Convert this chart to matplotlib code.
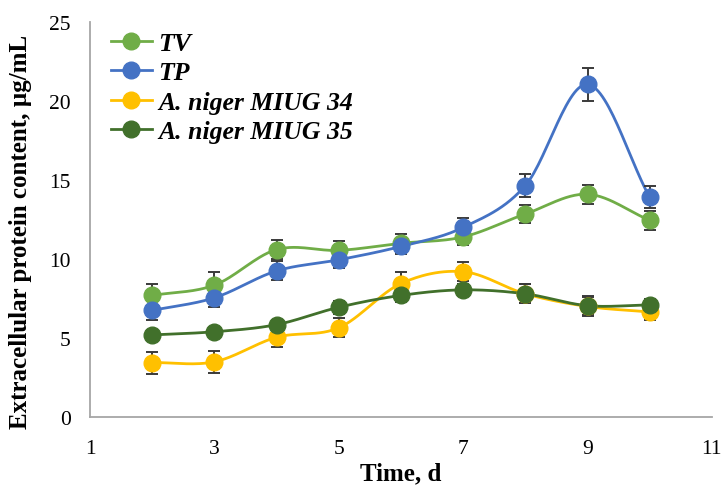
import numpy as np
import matplotlib
matplotlib.use("Agg")
import matplotlib.pyplot as plt
from matplotlib.lines import Line2D

days = [2, 3, 4, 5, 6, 7, 8, 9, 10]
series_names = ["TV", "TP", "A. niger MIUG 34", "A. niger MIUG 35"]
tv = [7.7, 8.35, 10.6, 10.55, 11.0, 11.4, 12.85, 14.1, 12.45]
tp = [6.75, 7.55, 9.25, 9.95, 10.8, 12.0, 14.65, 21.05, 13.9]
miug34 = [3.45, 3.5, 5.05, 5.65, 8.45, 9.2, 7.8, 7.0, 6.65]
miug35 = [5.2, 5.4, 5.85, 6.95, 7.7, 8.05, 7.8, 7.05, 7.1]
tv_err = [0.7, 0.8, 0.6, 0.6, 0.6, 0.5, 0.6, 0.6, 0.6]
tp_err = [0.6, 0.6, 0.6, 0.5, 0.5, 0.6, 0.7, 1.05, 0.7]
miug34_err = [0.7, 0.7, 0.6, 0.6, 0.7, 0.6, 0.6, 0.6, 0.5]
miug35_err = [0.3, 0.3, 0.3, 0.4, 0.4, 0.4, 0.6, 0.6, 0.4]
x_ticks = [1, 3, 5, 7, 9, 11]
y_ticks = [0, 5, 10, 15, 20, 25]

colors = ["#70AD47", "#4472C4", "#FFC000", "#41702B"]
values = [tv, tp, miug34, miug35]
errors = [tv_err, tp_err, miug34_err, miug35_err]


def smooth(x, y, n=30):
    # Catmull-Rom style smoothing similar to spreadsheet "smoothed line"
    x = np.asarray(x, float)
    y = np.asarray(y, float)
    px = np.concatenate([[2 * x[0] - x[1]], x, [2 * x[-1] - x[-2]]])
    py = np.concatenate([[2 * y[0] - y[1]], y, [2 * y[-1] - y[-2]]])
    xs, ys = [], []
    t = np.linspace(0, 1, n)
    for i in range(1, len(px) - 2):
        p0, p1, p2, p3 = (np.array([px[j], py[j]]) for j in range(i - 1, i + 3))
        t2, t3 = t * t, t * t * t
        pts = 0.5 * ((2 * p1)[:, None] + (-p0 + p2)[:, None] * t
                     + (2 * p0 - 5 * p1 + 4 * p2 - p3)[:, None] * t2
                     + (-p0 + 3 * p1 - 3 * p2 + p3)[:, None] * t3)
        xs.extend(pts[0])
        ys.extend(pts[1])
    return np.array(xs), np.array(ys)


plt.rcParams["font.family"] = ["Liberation Serif", "DejaVu Serif"]

fig = plt.figure(figsize=(7.22, 4.89), dpi=100)
ax = fig.add_axes([0.1247, 0.145, 0.8613, 0.808])

handles = []
for name, vals, errs, c in zip(series_names, values, errors, colors):
    sx, sy = smooth(days, vals)
    ax.plot(sx, sy, color=c, lw=2.0, zorder=2)
    ax.errorbar(days, vals, yerr=errs, fmt="none", ecolor="#3a3a3a",
                elinewidth=1.4, capsize=4.5, capthick=1.4, zorder=3)
    ax.plot(days, vals, linestyle="none", marker="o", markersize=12,
            markerfacecolor=c, markeredgecolor=c, zorder=4)
    handles.append(Line2D([0], [0], color=c, lw=2.0, marker="o",
                          markersize=12, markerfacecolor=c,
                          markeredgecolor=c))

ax.set_xlim(1, 11)
ax.set_ylim(0, 25)
ax.set_xticks(x_ticks)
ax.set_yticks(y_ticks)
ax.tick_params(length=0, labelsize=15.5)
ax.tick_params(axis="x", pad=16)
ax.tick_params(axis="y", pad=14)
for s in ["top", "right"]:
    ax.spines[s].set_visible(False)
for s in ["left", "bottom"]:
    ax.spines[s].set_color("#a6a6a6")
    ax.spines[s].set_linewidth(1.3)

ax.set_xlabel("Time, d", fontsize=18, fontweight="bold", labelpad=2)
ax.set_ylabel("Extracellular protein content, µg/mL", fontsize=18,
              fontweight="bold")
ax.yaxis.set_label_coords(-0.094, 0.47)

leg = ax.legend(handles, series_names, loc="upper left",
                bbox_to_anchor=(0.033, 0.975), frameon=False,
                prop={"size": 18.5, "weight": "bold", "style": "italic"},
                handlelength=1.6, handletextpad=0.25, labelspacing=0.25,
                borderaxespad=0.0, borderpad=0.0)

fig.savefig("out.png", dpi=100)
